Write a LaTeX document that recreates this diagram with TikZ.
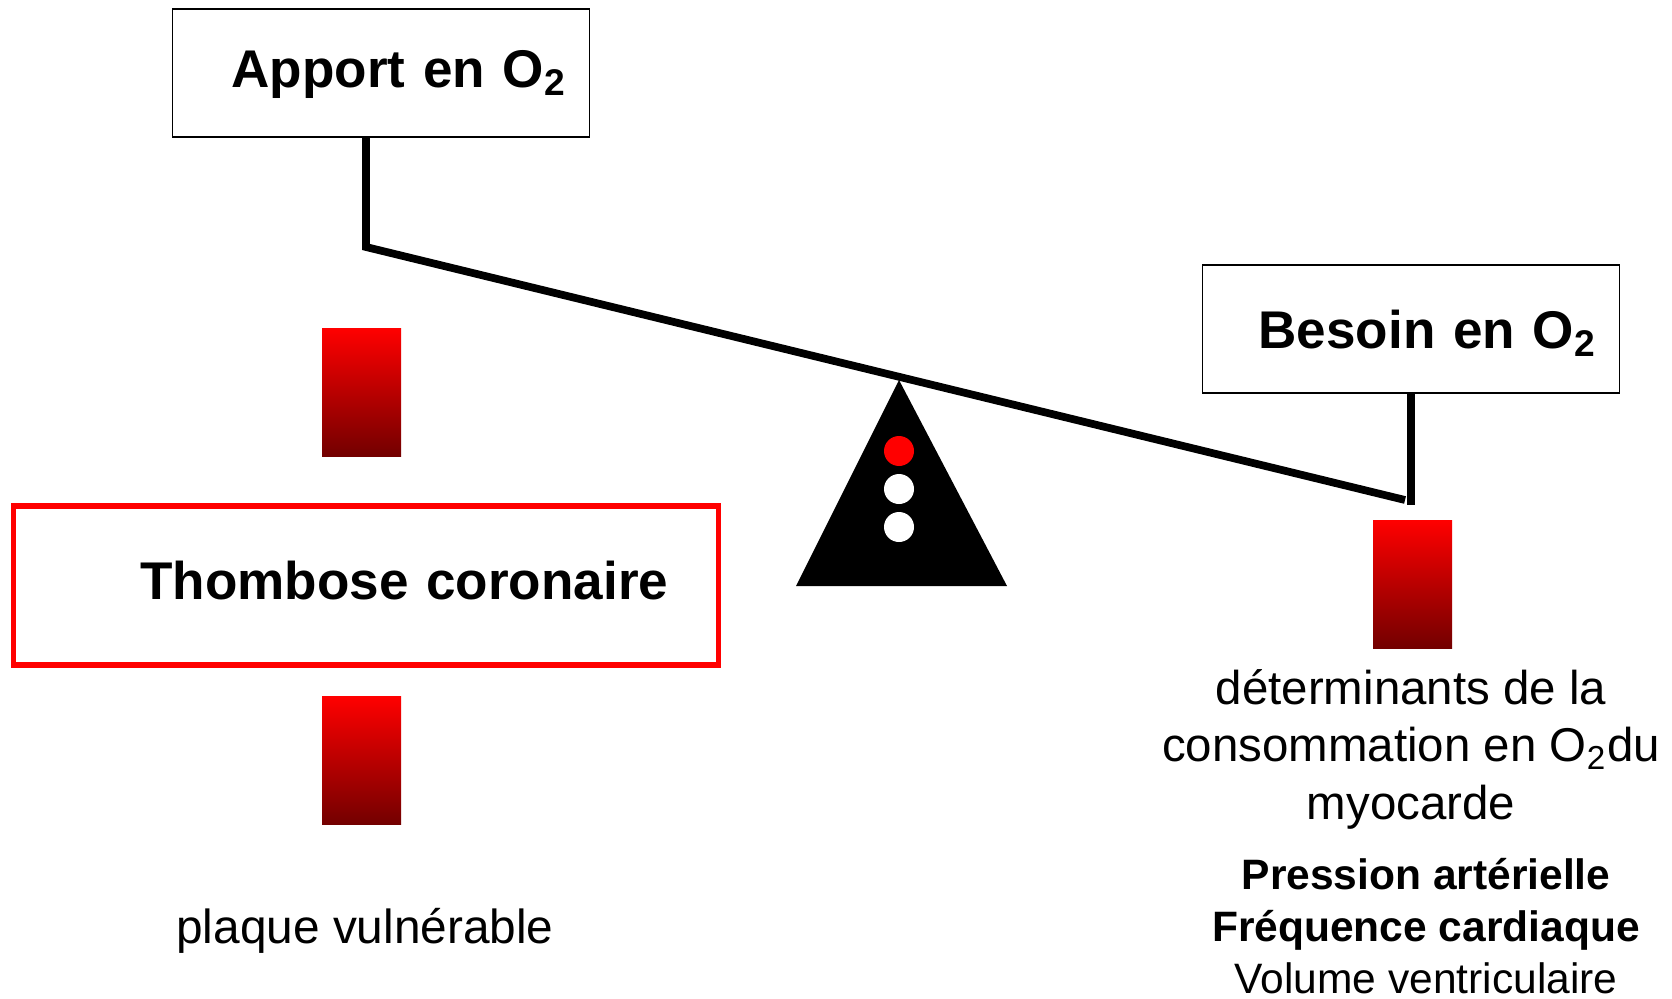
\documentclass[tikz,border=0pt]{standalone}
\usepackage{fontspec}
\setmainfont{Liberation Sans}
\tikzset{
  titlebox/.style={draw, line width=0.5pt, minimum height=1.28cm, text width=3.71cm,
    inner xsep=0.23cm, align=right, text height=0.98em, text depth=0.18em,
    font=\bfseries\fontsize{15.1}{18}\selectfont},
  bar/.style={top color=red, bottom color=red!45!black, minimum width=0.79cm,
    minimum height=1.28cm, inner sep=0pt},
  beam/.style={line width=2.2pt},
}
\begin{document}
\begin{tikzpicture}
\useasboundingbox (0,0) rectangle (16.72,9.98);
% boxes
\node[titlebox] (apport) at (3.81,9.25) {Apport en O\textsubscript{2}};
\node[titlebox, text height=1.28em] (besoin) at (14.11,6.69) {Besoin en O\textsubscript{2}};
\node[draw=red, line width=1.56pt, minimum height=1.59cm, text width=6.045cm,
  inner xsep=0.5cm, align=right, text height=1.0em, text depth=0.18em,
  font=\bfseries\fontsize{15.1}{18}\selectfont] (thrombose) at (3.66,4.125) {Thombose coronaire};
% balance
\coordinate (L) at (3.66,7.51);
\coordinate (R) at (14.05,4.98);
\coordinate (Rfoot) at (14.11,4.93);
\draw[beam] (apport.south -| L) -- (L) -- (R);
\draw[beam] (besoin.south) -- (Rfoot);
\fill (7.96,4.12) -- (8.99,6.18) -- (10.07,4.12) -- cycle;
\fill[red] (8.99,5.47) circle (0.15);
\foreach \y in {5.09,4.71}
  \fill[white] (8.99,\y) circle (0.15);
% red bars
\node[bar] (barup) at (3.615,6.06) {};
\node[bar] (bardown) at (3.615,2.375) {};
\node[bar] (barright) at (14.125,4.14) {};
% texts
\node[anchor=base, font=\fontsize{13.6}{16}\selectfont] (plaque) at (3.65,0.543) {plaque vulnérable};
\node[anchor=base, align=center, font=\fontsize{13.5}{16.36}\selectfont] (conso) at (14.11,1.79)
  {déterminants de la\\consommation en O\textsubscript{2}du\\myocarde};
\node[anchor=base, align=center, font=\fontsize{12.1}{14.8}\selectfont] (facteurs) at (14.26,0.045)
  {\textbf{Pression artérielle}\\\textbf{Fréquence cardiaque}\\Volume ventriculaire};
\end{tikzpicture}
\end{document}
